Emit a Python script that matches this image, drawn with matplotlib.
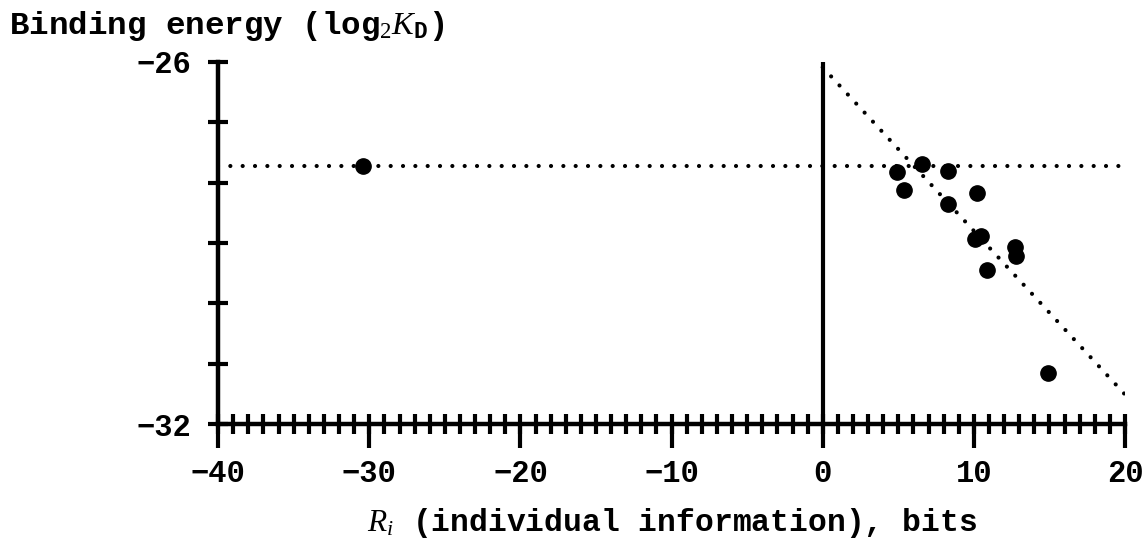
"""Binding energy vs individual information (Ri)."""
import matplotlib.pyplot as plt
from matplotlib.ticker import MultipleLocator

plt.switch_backend("agg")

# measured sites
ri_bits = [-30.4, 4.9, 5.4, 6.6, 8.3, 8.3, 10.2, 10.1, 10.5, 10.9, 12.7, 12.8, 14.9]
binding = [-27.73, -27.82, -28.13, -27.69, -27.81, -28.36, -28.18, -28.93,
           -28.89, -29.44, -29.07, -29.22, -31.15]

# reference lines
hline_level = -27.73
fit_x = [0, 20]
fit_intercept = -26.09
fit_slope = -0.271

plt.rcParams.update({
    "font.family": "Liberation Mono",
    "font.weight": "bold",
    "axes.labelweight": "bold",
    "font.size": 22,
    "mathtext.fontset": "custom",
    "mathtext.rm": "Liberation Serif:weight=normal",
    "mathtext.it": "Liberation Serif:italic:weight=normal",
    "mathtext.tt": "Liberation Mono:bold",
})

fig = plt.figure(figsize=(11.48, 5.43), dpi=100)
ax = fig.add_axes([0.190, 0.219, 0.790, 0.667])

dots = dict(color="black", lw=3, linestyle=(0, (0.01, 2.95)),
            dash_capstyle="round")
ax.axhline(hline_level, **dots)
ax.plot(fit_x, [fit_intercept + fit_slope * x for x in fit_x], **dots)
ax.axvline(0, color="black", lw=3)
ax.plot(ri_bits, binding, "o", color="black", ms=11, clip_on=False)

ax.set_xlim(-40, 20)
ax.set_ylim(-32, -26)
ax.xaxis.set_major_locator(MultipleLocator(10))
ax.xaxis.set_minor_locator(MultipleLocator(1))
ax.xaxis.remove_overlapping_locs = False
ax.set_yticks([-26, -32])
ax.set_yticks([-27, -28, -29, -30, -31], minor=True)

for s in ["top", "right"]:
    ax.spines[s].set_visible(False)
for s in ["left", "bottom"]:
    ax.spines[s].set_linewidth(3.2)

ax.tick_params(axis="x", which="major", direction="out", length=17.5,
               width=3, pad=8)
ax.tick_params(axis="x", which="minor", direction="inout", length=14,
               width=3)
ax.tick_params(axis="y", which="both", direction="inout", length=15,
               width=3, pad=12)

ax.set_xlabel(r"$R_i$ (individual information), bits", labelpad=12,
              fontsize=22.6)
fig.text(0.008, 0.953, r"Binding energy (log$_2$$K_\mathtt{D}$)",
         ha="left", va="center", fontsize=23.4)

fig.savefig("out.png")
plt.close()
